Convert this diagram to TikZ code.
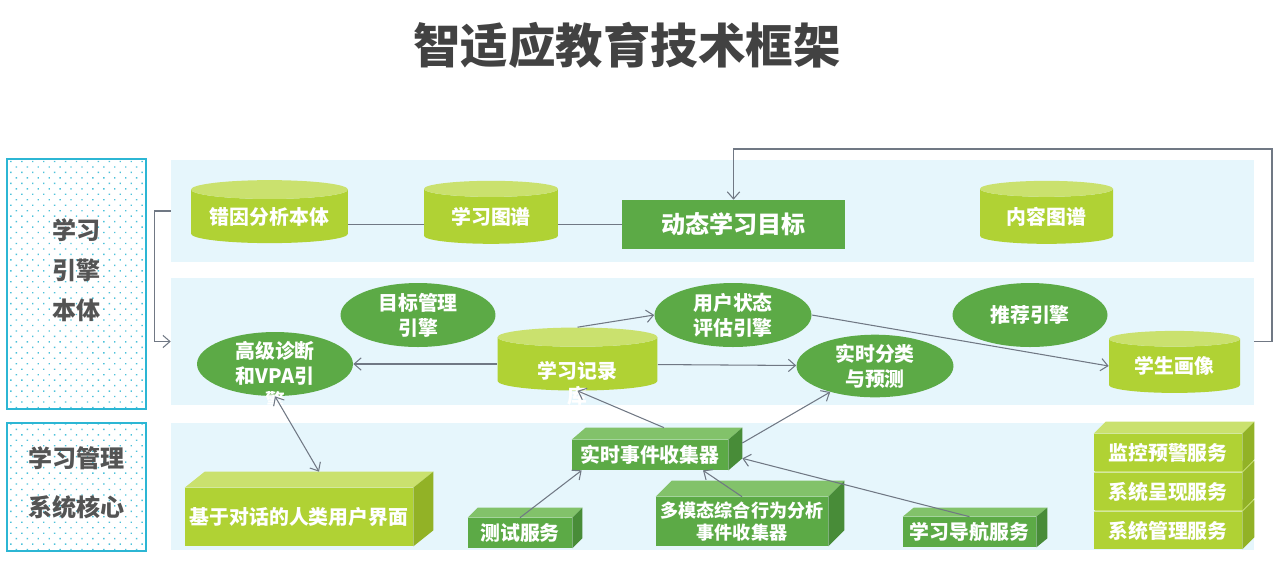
\documentclass[tikz,border=0pt]{standalone}
\usepackage{fontspec}
\setmainfont{Noto Sans CJK SC}
\usepackage[]{tikz}
\usetikzlibrary{shapes.geometric,patterns.meta,arrows.meta}
\definecolor{yg}{RGB}{176,210,52}
\definecolor{ygtop}{RGB}{202,225,110}
\definecolor{ygside}{RGB}{146,178,38}
\definecolor{gr}{RGB}{92,170,70}
\definecolor{grtop}{RGB}{130,194,106}
\definecolor{grside}{RGB}{72,140,56}
\definecolor{bandblue}{RGB}{230,246,252}
\definecolor{frame}{RGB}{44,182,212}
\definecolor{ink}{RGB}{66,66,66}
\definecolor{sidegray}{RGB}{84,84,84}
\definecolor{linkgray}{RGB}{112,120,132}
\newcommand{\boxfont}{\bfseries\fontsize{11.3}{14.2}\selectfont}
% 立方体的顶面和侧面
\newcommand{\cubeface}[4]{%
        \fill[#4top] (#1.north west) -- ++(#2,-#3) -- ([shift={(#2,-#3)}]#1.north east) -- (#1.north east) -- cycle;
        \fill[#4side] (#1.north east) -- ++(#2,-#3) -- ([shift={(#2,-#3)}]#1.south east) -- (#1.south east) -- cycle;}
\tikzset{band/.style={fill=bandblue,inner sep=0pt,minimum width=21.66cm},
        sidebox/.style={draw=frame,line width=1.1pt,pattern={Dots[distance=4.4pt,radius=0.55pt,angle=45]},pattern color=frame!85,minimum width=2.78cm},
        sidetext/.style={text=sidegray,font=\bfseries\fontsize{13.7}{22.8}\selectfont,align=center},
        db/.style={cylinder,shape border rotate=90,aspect=0.12,cylinder uses custom fill,cylinder body fill=yg,cylinder end fill=ygtop,minimum height=1.26cm,inner sep=0pt,text=white,font=\boxfont,align=center},
        engine/.style={ellipse,fill=gr,minimum width=3.12cm,minimum height=1.28cm,inner sep=0pt,text=white,font=\boxfont,align=center},
        cube/.style={inner sep=0pt,text=white,font=\boxfont,align=center},
        boxtxt/.style={inner sep=0pt,text=white,font=\boxfont,align=center},
        link/.style={->,draw=linkgray,line width=0.6pt},
        plain/.style={draw=linkgray,line width=0.8pt}}
\begin{document}
\begin{tikzpicture}[x=0.02cm,y=-0.02cm,>={Straight Barb[length=4pt,width=7pt]}]
        \useasboundingbox (0,0) rectangle (1280,566);
        \node[font=\bfseries\fontsize{27}{32}\selectfont,text=ink] (title) at (627,45) {智适应教育技术框架};
        % 左侧分区
        \node[sidebox,minimum height=5cm] (engbox) at (76.5,284) {};
        \node[sidetext] (engtxt) at (76.5,270) {学习\\引擎\\本体};
        \node[sidebox,minimum height=2.56cm] (lmsbox) at (76.5,487) {};
        \node[sidetext] (lmstxt) at (76.5,482.5) {学习管理\\[5pt]系统核心};
        % 三层背景
        \node[band,minimum height=2.04cm] (layer1) at (712.5,211) {};
        \node[band,minimum height=2.54cm] (layer2) at (712.5,341.5) {};
        \node[band,minimum height=2.54cm] (layer3) at (712.5,486.5) {};
        % 第一层
        \node[db,text width=3.14cm] (err) at (269.5,216.5) {错因分析本体};
        \node[db,text width=2.68cm] (lmap) at (491,216.5) {学习图谱};
        \node[fill=gr,text=white,font=\bfseries\fontsize{13.7}{16}\selectfont,minimum width=4.46cm,minimum height=0.98cm] (goal) at (733.5,224.5) {动态学习目标};
        \node[db,text width=2.66cm] (cmap) at (1046.5,216.5) {内容图谱};
        % 第二层
        \node[engine,minimum width=3.1cm] (goalmgr) at (418,315) {目标管理\\引擎};
        \node[engine] (vpa) at (275,364) {};
        \node[boxtxt] (vpatxt) at ([yshift=-0.24cm]vpa) {高级诊断\\和VPA引\\擎};
        \node[db,text width=3.2cm] (rec) at (577.5,364) {};
        \node[boxtxt] (rectxt) at ([yshift=-0.38cm]rec) {学习记录\\库};
        \node[engine,minimum width=3.14cm] (state) at (733,315) {用户状态\\评估引擎};
        \node[engine,minimum width=3.14cm,minimum height=1.24cm] (predict) at (875,366) {实时分类\\与预测};
        \node[engine,minimum width=3.1cm] (recom) at (1030,315) {推荐引擎};
        \node[db,text width=2.62cm,minimum height=1.24cm] (portrait) at (1174.5,366) {学生画像};
        % 第三层
        \node[cube,fill=yg,minimum width=4.56cm,minimum height=1.16cm] (dlg) at (299,517) {基于对话的人类用户界面};
        \cubeface{dlg}{20}{16}{yg}
        \node[cube,fill=gr,minimum width=3.12cm,minimum height=0.6cm] (collect) at (650,455) {实时事件收集器};
        \cubeface{collect}{14}{12}{gr}
        \node[cube,fill=gr,minimum width=2.08cm,minimum height=0.6cm] (test) at (520,533) {测试服务};
        \cubeface{test}{10}{10}{gr}
        \node[cube,fill=gr,minimum width=3.44cm,minimum height=0.98cm,font=\bfseries\fontsize{10.3}{12.5}\selectfont] (multi) at (742,521.5) {多模态综合行为分析\\事件收集器};
        \cubeface{multi}{16}{16}{gr}
        \node[cube,fill=gr,minimum width=2.66cm,minimum height=0.6cm] (nav) at (969.5,532) {学习导航服务};
        \cubeface{nav}{11}{9}{gr}
        \node[cube,fill=yg,minimum width=2.96cm,minimum height=0.74cm] (admin) at (1168,530.5) {系统管理服务};
        \cubeface{admin}{12}{12}{yg}
        \node[cube,fill=yg,minimum width=2.96cm,minimum height=0.74cm] (present) at (1168,491.5) {系统呈现服务};
        \cubeface{present}{12}{12}{yg}
        \node[cube,fill=yg,minimum width=2.96cm,minimum height=0.74cm] (monitor) at (1168,452.5) {监控预警服务};
        \cubeface{monitor}{12}{12}{yg}
        % 连线
        \draw[plain] (err.east |- goal) -- (lmap.west |- goal);
        \draw[plain] (lmap.east |- goal) -- (goal.west);
        \draw[link] (layer1.west) -- ++(-16,0) |- (layer2.west);
        \coordinate (fb) at (1272,149);
        \draw[link] (layer2.east) -| (fb) -| (goal.north);
        \draw[link] (rec) -- (vpa);
        \draw[link] (rec.north) -- (state.west);
        \draw[link] (rec) -- (predict);
        \draw[link] (state.east) -- (portrait.west);
        \draw[link] ([shift={(14,-12)}]collect.north) -- (rec.south);
        \draw[link] ([shift={(14,-12)}]collect.east) -- (predict);
        \draw[link,<->] (vpa.south) -- ([shift={(20,-16)}]dlg.north);
        \draw[link] (test.north) -- ([xshift=0.2cm]collect.south west);
        \draw[link] (multi.north) -- ([xshift=1.06cm]collect.south);
        \draw[link] (nav.north) -- ([shift={(14,-12)}]collect.south east);
        \end{tikzpicture}
\end{document}
